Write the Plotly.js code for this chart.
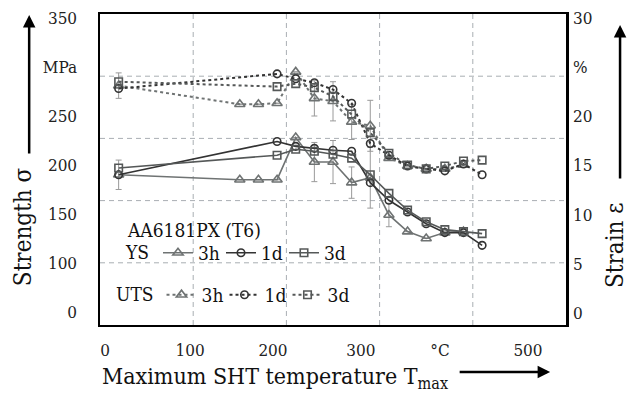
<!DOCTYPE html>
<html>
<head>
<meta charset="utf-8">
<script src="https://cdn.plot.ly/plotly-3.0.1.min.js"></script>
<style>html,body{margin:0;padding:0;background:#fff}#chart{width:628px;height:396px}</style>
</head>
<body>
<div id="chart"></div>
<script>
// Temperatures (°C)
var tempAll = [20, 190, 210, 230, 250, 270, 290, 310, 330, 350, 370, 390, 410];
var temp3h  = [20, 150, 170, 190, 210, 230, 250, 270, 290, 310, 330, 350, 370, 390];

// Yield strength (MPa)
var ys3h = [190, 185, 185, 185, 228, 203, 203, 182, 187, 149, 132, 125, 131, 132];
var ys1d = [190, 224, 219, 217, 215, 214, 182, 164, 152, 140, 131, 131, 118];
var ys3d = [197, 210, 216, 214, 211, 207, 190, 171, 154, 142, 134, 132, 130];
var ys3hErr = [15, 0, 0, 0, 0, 20, 22, 16, 31, 12, 0, 0, 0, 0];

// Ultimate tensile strength (MPa)
var uts3h = [281, 262, 262, 263, 295, 268, 265, 244, 240, 207, 199, 196, 196, 200];
var uts1d = [278, 293, 288, 284, 277, 263, 222, 210, 199, 196, 194, 201, 190];
var uts3d = [285, 280, 283, 279, 270, 252, 233, 212, 200, 196, 199, 204, 205];
var uts3hErr = [13, 0, 0, 0, 0, 18, 20, 18, 26, 0, 0, 0, 0, 0];

// Tick labels
var xTickVals = [5.4, 96.6, 185.6, 280, 364.8, 459.2];
var xTickText = ['0', '100', '200', '300', '°C', '500'];
var yTickVals = [50, 100, 150, 200, 250, 300, 350];
var yTickText = ['0', '100', '150', '200', '250', 'MPa', '350'];
var y2TickVals = [0, 5, 10, 15, 20, 25, 30];
var y2TickText = ['0', '5', '10', '15', '20', '%', '30'];

var FONT = 'DejaVu Serif Condensed, DejaVu Serif';
var c3h = '#6f7373', c1d = '#333333', c3d = '#555858';

function series(x, y, name, color, sym, dash, leg, err) {
  var t = {
    x: x, y: y, name: name, type: 'scatter', mode: 'lines+markers',
    line: {color: color, width: dash ? 2 : 1.6, dash: dash || 'solid'},
    marker: {symbol: sym, size: sym === 'triangle-up-open' ? 9 : 7.5, color: color, line: {width: 1.6, color: color}},
    legend: leg, hoverinfo: 'x+y'
  };
  if (err) t.error_y = {type: 'data', array: err, visible: true, color: '#9a9a9a', thickness: 1, width: 3};
  return t;
}

var traces = [
  series(temp3h, ys3h, '3h', c3h, 'triangle-up-open', null, 'legend', ys3hErr),
  series(tempAll, ys1d, '1d', c1d, 'circle-open', null, 'legend'),
  series(tempAll, ys3d, '3d', c3d, 'square-open', null, 'legend'),
  series(temp3h, uts3h, '3h', c3h, 'triangle-up-open', 'dot', 'legend2', uts3hErr),
  series(tempAll, uts1d, '1d', c1d, 'circle-open', 'dot', 'legend2'),
  series(tempAll, uts3d, '3d', c3d, 'square-open', 'dot', 'legend2'),
  {x: [0], y: [0], yaxis: 'y2', mode: 'markers', marker: {opacity: 0}, showlegend: false, hoverinfo: 'skip'}
];

var shapes = [];
[100, 200, 300, 400].forEach(function (v) {
  shapes.push({type: 'line', xref: 'x', yref: 'paper', x0: v, x1: v, y0: 0, y1: 1,
    line: {color: '#a9aeb3', width: 1, dash: '5px,4px'}, layer: 'below'});
});
[0.2, 0.4, 0.6, 0.8].forEach(function (v) {
  shapes.push({type: 'line', xref: 'paper', yref: 'paper', x0: 0, x1: 1, y0: v, y1: v,
    line: {color: '#a9aeb3', width: 1, dash: '5px,4px'}, layer: 'below'});
});

var legendCommon = {
  orientation: 'h', bgcolor: 'rgba(0,0,0,0)', font: {family: FONT, size: 19, color: '#111'},
  xanchor: 'left', yanchor: 'middle', itemwidth: 30, tracegroupgap: 0, entrywidth: 18,
  itemclick: false, itemdoubleclick: false
};

var layout = {
  width: 628, height: 396,
  margin: {l: 100, r: 62, t: 14, b: 71},
  paper_bgcolor: '#fff', plot_bgcolor: '#fff',
  font: {family: FONT, size: 17, color: '#222'},
  showlegend: true,
  xaxis: {
    range: [0, 500], tickmode: 'array', tickvals: xTickVals, ticktext: xTickText,
    showgrid: false, zeroline: false, showline: true, linecolor: '#000', linewidth: 2, mirror: true,
    ticks: '', ticklabelstandoff: 9, tickfont: {family: FONT, size: 17, color: '#222'}
  },
  yaxis: {
    range: [36.7, 354.1], tickmode: 'array', tickvals: yTickVals, ticktext: yTickText,
    showgrid: false, zeroline: false, showline: true, linecolor: '#000', linewidth: 2.5, mirror: true,
    ticks: '', ticklabelstandoff: 17, tickfont: {family: FONT, size: 17, color: '#222'}
  },
  yaxis2: {
    overlaying: 'y', side: 'right', range: [-1.22, 30.41], tickmode: 'array',
    tickvals: y2TickVals, ticktext: y2TickText, showgrid: false, zeroline: false,
    showline: false, ticks: '', ticklabelstandoff: 6, tickfont: {family: FONT, size: 17, color: '#222'}
  },
  legend: Object.assign({}, legendCommon, {x: 0.0515, y: 0.232, title: {text: 'YS', side: 'left', font: {family: FONT, size: 19, color: '#111'}}}),
  legend2: Object.assign({}, legendCommon, {x: 0.03, y: 0.097, title: {text: 'UTS', side: 'left', font: {family: FONT, size: 19, color: '#111'}}}),
  shapes: shapes,
  annotations: [
    {text: 'AA6181PX (T6)', xref: 'paper', yref: 'paper', x: 0.054, y: 0.305, xanchor: 'left', yanchor: 'middle',
     showarrow: false, font: {family: FONT, size: 19, color: '#111'}},
    {text: 'Strength σ', xref: 'paper', yref: 'paper', x: -0.165, y: 0.315, textangle: -90,
     xanchor: 'center', yanchor: 'middle', showarrow: false, font: {family: FONT, size: 24, color: '#111'}},
    {text: 'Strain ε', xref: 'paper', yref: 'paper', x: 1.105, y: 0.257, textangle: -90,
     xanchor: 'center', yanchor: 'middle', showarrow: false, font: {family: FONT, size: 24, color: '#111'}},
    {text: 'Maximum SHT temperature T<sub>max</sub>', xref: 'paper', yref: 'paper', x: 0, y: -0.17,
     xanchor: 'left', yanchor: 'middle', showarrow: false, font: {family: FONT, size: 23, color: '#111'}},
    {text: '', xref: 'paper', yref: 'paper', x: -0.152, y: 0.997, ax: 0, ay: 140, showarrow: true,
     arrowhead: 2, arrowsize: 1, arrowwidth: 2.5, arrowcolor: '#000', standoff: 0},
    {text: '', xref: 'paper', yref: 'paper', x: 1.116, y: 0.965, ax: 0, ay: 155, showarrow: true,
     arrowhead: 2, arrowsize: 1, arrowwidth: 2.5, arrowcolor: '#000', standoff: 0},
    {text: '', xref: 'paper', yref: 'paper', x: 0.966, y: -0.151, ax: -92, ay: 0, showarrow: true,
     arrowhead: 2, arrowsize: 1, arrowwidth: 2.5, arrowcolor: '#000', standoff: 0}
  ]
};

Plotly.newPlot('chart', traces, layout, {staticPlot: true, displayModeBar: false});
</script>
</body>
</html>
